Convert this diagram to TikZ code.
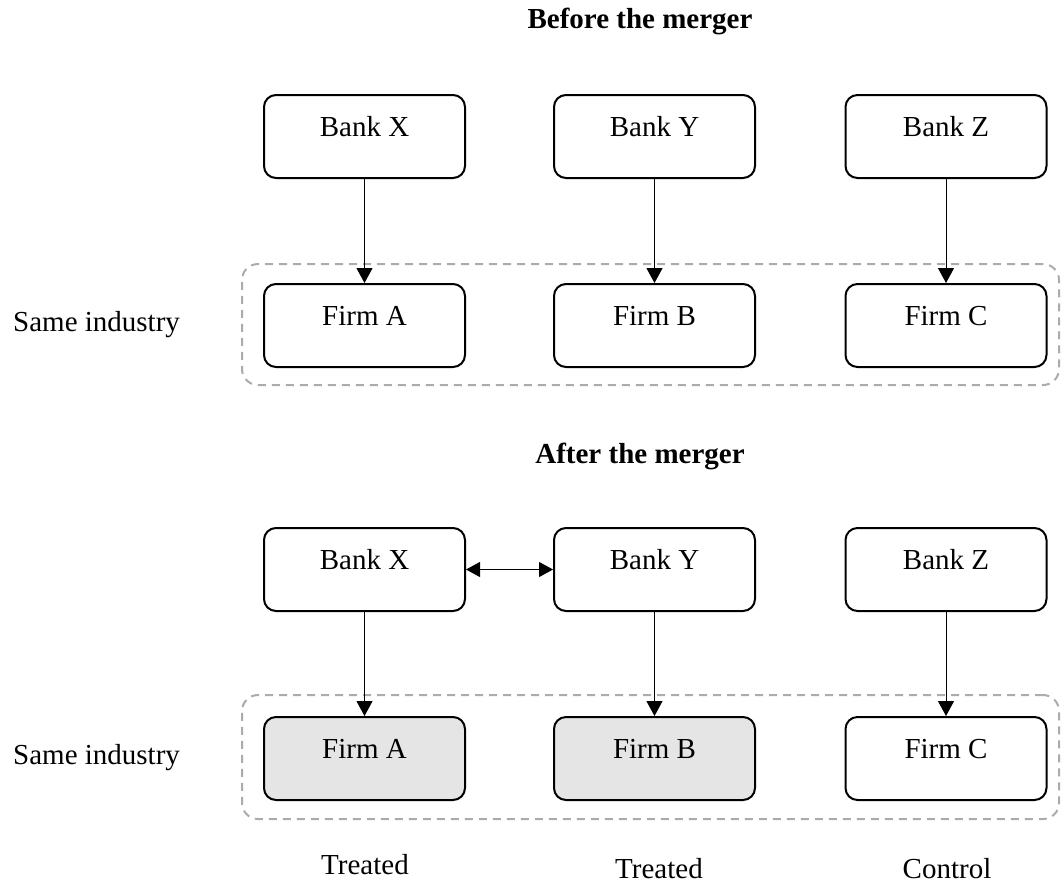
\documentclass[tikz,border=0pt]{standalone}
\usepackage{fontspec}
\setmainfont{Liberation Serif}
\usetikzlibrary{arrows.meta}

\begin{document}
\begin{tikzpicture}[x=1pt, y=-1pt,
                    font=\fontsize{29}{34}\selectfont,
                    box/.style={draw, line width=2pt, rounded corners=12pt, fill=white,
                                minimum width=201pt, minimum height=83pt,
                                text height=20pt, text depth=20pt, inner sep=0pt},
                    treated/.style={box, fill=black!10},
                    industry/.style={draw=black!33, line width=2pt, dash pattern=on 8pt off 6pt,
                                     rounded corners=16pt, minimum width=817pt, inner sep=0pt},
                    link/.style={line width=1pt, -{Triangle[length=15pt,width=16pt]}},
                    merge/.style={line width=1pt, {Triangle[length=14pt,width=15pt]}-{Triangle[length=14pt,width=15pt]}},
                    heading/.style={font=\fontsize{29}{34}\selectfont\bfseries, anchor=base},
                    caption/.style={anchor=base}]
  \useasboundingbox (0,0) rectangle (1062,884);

  % before the merger
  \node[heading] (before) at (640,28) {Before the merger};
  \node[industry, minimum height=121pt] (ind1) at (650.5,324.5) {};
  \node[caption, anchor=base west, inner sep=0pt] (same1) at (13,331) {Same industry};
  \node[box] (bx1) at (364.5,136.5) {Bank X};
  \node[box] (by1) at (654.5,136.5) {Bank Y};
  \node[box] (bz1) at (946,136.5) {Bank Z};
  \node[box] (fa1) at (364.5,325.5) {Firm A};
  \node[box] (fb1) at (654.5,325.5) {Firm B};
  \node[box] (fc1) at (946,325.5) {Firm C};
  \draw[link] (bx1) -- (fa1);
  \draw[link] (by1) -- (fb1);
  \draw[link] (bz1) -- (fc1);

  % after the merger
  \node[heading] (after) at (640,463) {After the merger};
  \node[industry, minimum height=124pt] (ind2) at (650.5,757) {};
  \node[caption, anchor=base west, inner sep=0pt] (same2) at (13,764) {Same industry};
  \node[box] (bx2) at (364.5,569.5) {Bank X};
  \node[box] (by2) at (654.5,569.5) {Bank Y};
  \node[box] (bz2) at (946,569.5) {Bank Z};
  \node[treated] (fa2) at (364.5,758.5) {Firm A};
  \node[treated] (fb2) at (654.5,758.5) {Firm B};
  \node[box] (fc2) at (946,758.5) {Firm C};
  \draw[merge] (bx2) -- (by2);
  \draw[link] (bx2) -- (fa2);
  \draw[link] (by2) -- (fb2);
  \draw[link] (bz2) -- (fc2);

  \node[caption] (treat1) at (365,874) {Treated};
  \node[caption] (treat2) at (659,878) {Treated};
  \node[caption] (control) at (947,878) {Control};
\end{tikzpicture}
\end{document}
